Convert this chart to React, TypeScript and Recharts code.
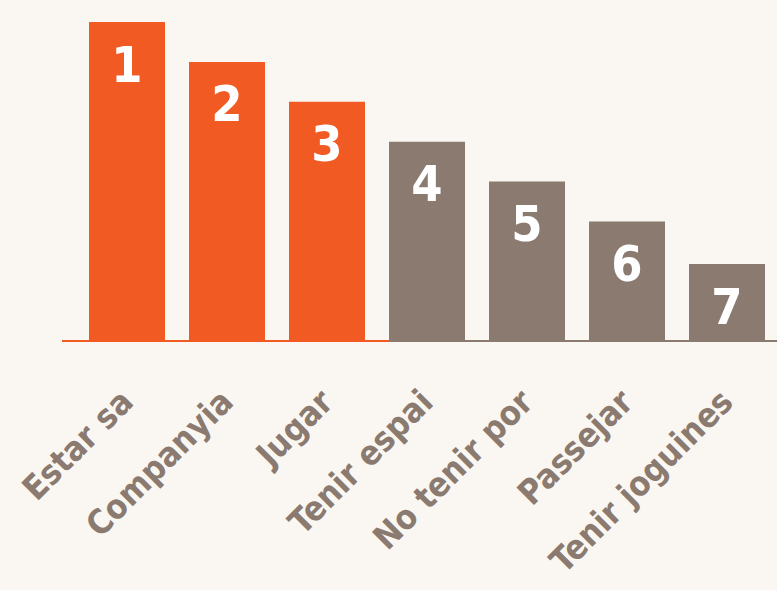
import { BarChart, Bar, XAxis, YAxis, Cell, LabelList } from 'recharts';

// Ranked reasons (Catalan labels), tallest first
const categories = ['Estar sa', 'Companyia', 'Jugar', 'Tenir espai', 'No tenir por', 'Passejar', 'Tenir joguines'];
const values = [8, 7, 6, 5, 4, 3, 1.93];
const ranks = ['1', '2', '3', '4', '5', '6', '7'];
const highlighted = [true, true, true, false, false, false, false];

const ORANGE = '#f15a22';
const GREY = '#8b7a70';
const BG = '#faf7f2';
const FONT = '"DejaVu Sans Condensed", "DejaVu Sans", sans-serif';

const chartData = categories.map((name, i) => ({
  name,
  value: values[i],
  rank: ranks[i],
  top: highlighted[i],
}));

function AngledTick({ x, y, payload }: any) {
  const tx = x + 8;
  const ty = y + 55;
  return (
    <text
      x={tx}
      y={ty}
      transform={`rotate(-45, ${tx}, ${ty})`}
      textAnchor="end"
      fill={GREY}
      fontFamily={FONT}
      fontStretch="condensed"
      fontWeight="bold"
      fontSize={34}
    >
      {payload.value}
    </text>
  );
}

export default function App() {
  return (
    <div style={{ position: 'absolute', left: 0, top: 0, width: 777, height: 590, background: BG }}>
      <BarChart
        width={777}
        height={590}
        data={chartData}
        margin={{ top: 22, right: 0, left: 62, bottom: 0 }}
        barCategoryGap="12%"
      >
        <defs>
          <linearGradient id="axisGrad" gradientUnits="userSpaceOnUse" x1="62" y1="0" x2="777" y2="0">
            <stop offset="0" stopColor={ORANGE} />
            <stop offset="0.4587" stopColor={ORANGE} />
            <stop offset="0.4587" stopColor={GREY} />
            <stop offset="1" stopColor={GREY} />
          </linearGradient>
        </defs>
        <XAxis
          dataKey="name"
          height={249}
          interval={0}
          tickLine={false}
          axisLine={{ stroke: 'url(#axisGrad)', strokeWidth: 2 }}
          padding={{ left: 15, right: 0 }}
          tick={<AngledTick />}
        />
        <YAxis hide domain={[0, 8]} />
        <Bar dataKey="value" isAnimationActive={false}>
          {chartData.map((d, i) => (
            <Cell key={`cell-${i}`} fill={d.top ? ORANGE : GREY} />
          ))}
          <LabelList
            dataKey="rank"
            position="insideTop"
            offset={24}
            fill="#ffffff"
            fontFamily={FONT}
            fontStretch="condensed"
            fontWeight="bold"
            fontSize={50}
          />
        </Bar>
      </BarChart>
    </div>
  );
}
